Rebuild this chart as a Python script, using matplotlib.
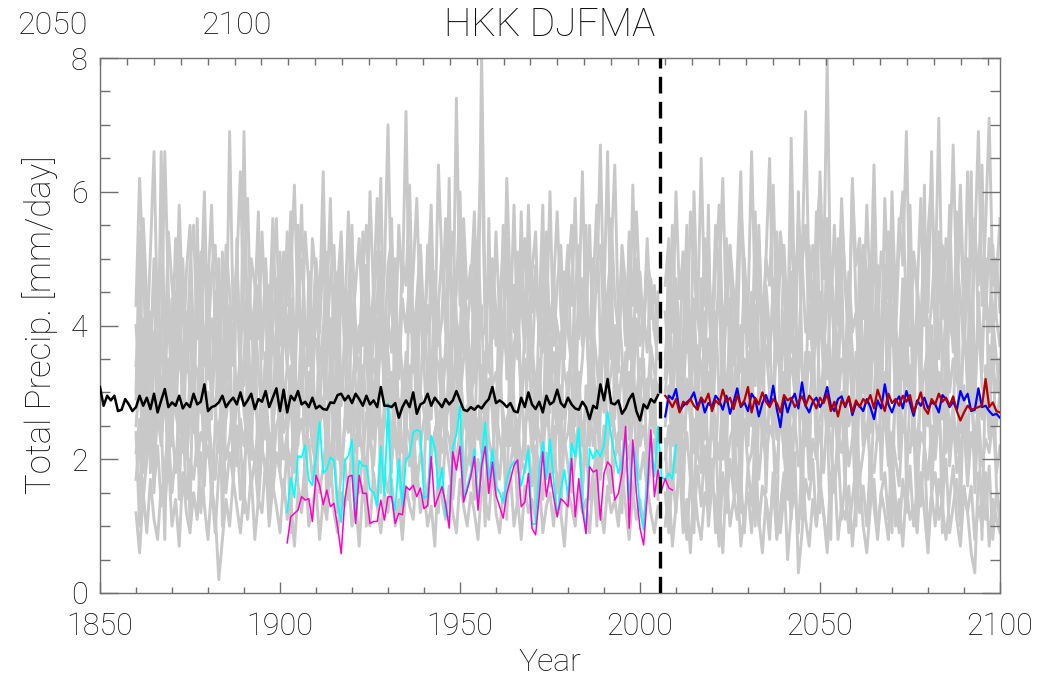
import matplotlib
matplotlib.use("Agg")
import matplotlib.pyplot as plt
import numpy as np

# ---------------- data (mm/day) ----------------
mean_hist_years = list(range(1850, 2006))
mean_hist = [
    3.08, 2.80, 2.95, 2.88, 2.95, 2.72, 2.74, 2.90, 2.82, 2.72,
    2.78, 2.95, 2.80, 2.92, 2.75, 2.98, 2.70, 2.88, 3.05, 2.78,
    2.85, 2.80, 2.95, 2.76, 2.84, 2.78, 2.98, 2.82, 2.86, 3.12,
    2.72, 2.78, 2.80, 2.85, 2.95, 2.78, 2.86, 2.92, 2.82, 3.00,
    2.80, 2.88, 2.98, 2.75, 2.90, 2.86, 3.02, 2.78, 2.92, 3.06,
    2.72, 3.04, 2.70, 2.95, 2.88, 3.02, 2.82, 2.86, 2.78, 2.92,
    2.76, 2.80, 2.75, 2.74, 2.85, 2.84, 2.96, 2.98, 2.88, 2.95,
    2.84, 2.98, 2.90, 2.80, 2.95, 2.82, 2.88, 2.78, 3.08, 2.80,
    2.80, 2.78, 2.84, 2.62, 2.78, 2.88, 2.78, 3.00, 2.68, 2.82,
    2.85, 2.98, 2.80, 2.92, 2.85, 2.78, 2.90, 2.82, 2.88, 3.02,
    2.88, 2.74, 2.72, 2.78, 2.74, 2.80, 2.76, 2.84, 2.90, 3.08,
    2.84, 2.88, 2.84, 2.78, 2.84, 2.72, 2.70, 2.92, 2.78, 3.00,
    2.82, 2.75, 2.86, 2.70, 2.95, 2.82, 2.86, 3.04, 2.84, 2.78,
    2.92, 2.82, 2.76, 2.74, 2.86, 2.78, 2.60, 2.80, 2.76, 3.12,
    2.88, 3.20, 2.84, 2.82, 2.88, 2.68, 2.76, 2.90, 2.98, 2.72,
    2.58, 2.82, 2.76, 2.90, 2.85, 2.96,
]

future_years = list(range(2007, 2101))
mean_fut_blue = [
    2.64, 2.95, 2.90, 3.05, 2.72, 2.80, 2.85, 2.90, 3.00, 2.78,
    2.92, 2.70, 2.84, 2.78, 2.95, 2.88, 2.74, 2.95, 2.68, 2.86,
    3.06, 2.78, 2.85, 2.72, 2.98, 2.90, 2.64, 2.84, 2.96, 2.80,
    3.10, 2.75, 2.48, 2.92, 2.70, 2.88, 2.98, 2.76, 3.15, 2.80,
    2.70, 2.86, 2.92, 2.78, 2.88, 3.08, 2.80, 2.72, 2.90, 2.94,
    2.78, 2.92, 2.66, 2.84, 2.80, 2.72, 2.90, 2.78, 2.60, 2.88,
    2.76, 3.12, 2.82, 2.70, 2.86, 2.94, 2.76, 3.02, 2.84, 2.65,
    2.88, 2.80, 2.92, 2.76, 2.85, 2.82, 2.70, 2.96, 2.90, 2.78,
    2.86, 2.74, 3.02, 2.88, 2.98, 2.72, 2.74, 3.06, 2.78, 2.80,
    2.72, 2.66, 2.68, 2.62,
]
mean_fut_red = [
    2.95, 2.88, 2.78, 2.90, 2.70, 2.86, 2.82, 2.90, 2.80, 2.74,
    2.92, 2.85, 2.98, 2.72, 2.88, 2.82, 3.04, 2.86, 2.92, 2.75,
    2.96, 2.80, 2.88, 3.08, 2.70, 2.92, 2.82, 3.00, 2.86, 2.78,
    2.90, 2.84, 2.70, 2.96, 2.88, 2.92, 2.78, 2.86, 2.94, 2.80,
    2.95, 2.88, 2.76, 2.92, 2.84, 2.98, 2.72, 2.86, 2.64, 2.88,
    2.80, 2.94, 2.70, 2.88, 2.78, 2.90, 2.84, 2.96, 2.76, 3.04,
    2.88, 2.72, 2.98, 2.84, 2.90, 2.80, 2.95, 2.86, 2.96, 2.70,
    2.84, 3.00, 2.76, 2.68, 2.90, 2.82, 2.98, 2.86, 2.92, 2.80,
    2.94, 2.72, 2.58, 2.70, 2.80, 2.74, 2.76, 2.78, 2.80, 3.20,
    2.78, 2.85, 2.72, 2.70,
]

obs_cyan_years = list(range(1902, 2011))
obs_cyan = [
    1.21, 1.72, 1.43, 2.05, 2.03, 2.21, 1.69, 1.61, 2.03, 2.56,
    1.79, 1.85, 2.03, 1.98, 1.35, 1.06, 1.98, 2.05, 2.29, 1.09,
    1.98, 1.90, 1.90, 1.55, 1.50, 1.30, 2.19, 1.45, 2.84, 1.45,
    1.24, 2.00, 1.30, 2.00, 2.05, 2.40, 2.44, 2.41, 1.42, 1.45,
    2.35, 2.18, 1.55, 1.87, 1.15, 1.13, 2.18, 2.37, 2.80, 1.40,
    1.60, 1.80, 2.15, 1.35, 2.00, 2.55, 1.70, 2.15, 1.60, 1.50,
    1.35, 1.70, 1.87, 1.97, 1.92, 1.60, 1.85, 2.15, 1.03, 1.03,
    1.85, 2.26, 1.70, 2.30, 1.69, 1.14, 1.54, 1.84, 1.44, 2.24,
    2.04, 2.46, 1.39, 0.89, 2.16, 2.01, 2.14, 2.04, 2.21, 2.71,
    2.34, 2.04, 1.79, 1.99, 2.39, 1.39, 2.24, 1.94, 1.24, 0.94,
    1.69, 2.34, 1.74, 2.49, 1.74, 1.69, 1.79, 1.71, 2.21,
]

obs_magenta_years = list(range(1902, 2010))
obs_magenta = [
    0.75, 1.14, 1.19, 1.24, 1.44, 1.39, 1.41, 1.07, 1.76, 1.61,
    1.32, 1.54, 1.29, 1.34, 0.99, 0.59, 1.39, 1.74, 1.76, 1.04,
    1.76, 1.49, 1.49, 1.04, 1.07, 1.07, 1.39, 1.09, 1.44, 1.44,
    1.04, 1.19, 1.17, 1.59, 1.54, 1.61, 1.44, 1.57, 1.26, 1.31,
    2.04, 1.29, 1.44, 1.59, 1.34, 0.97, 2.11, 1.84, 2.19, 1.36,
    1.54, 1.74, 2.04, 1.24, 1.89, 2.19, 1.49, 1.96, 1.46, 1.29,
    1.12, 1.49, 1.69, 1.91, 1.99, 1.29, 1.36, 1.79, 0.97, 0.87,
    1.44, 2.11, 1.44, 1.79, 1.44, 1.14, 1.41, 1.36, 1.29, 2.01,
    1.14, 1.71, 1.24, 0.89, 1.89, 1.81, 1.84, 1.09, 1.79, 1.96,
    1.89, 1.39, 1.49, 1.79, 2.49, 0.97, 2.29, 1.49, 0.97, 0.72,
    1.44, 2.44, 1.44, 1.84, 1.54, 1.71, 1.57, 1.54,
]

# ensemble members, historical 1860-2005
member_hist_years = list(range(1860, 2006))
member_hist_1 = [
    4.3, 6.2, 4.8, 3.6, 5.1, 6.6, 4.0, 4.9, 3.5, 5.4, 4.6, 3.9, 5.8, 4.2, 3.3, 4.9, 5.5, 3.8, 4.4, 6.0,
    3.7, 4.8, 5.2, 3.9, 4.5, 3.4, 6.9, 4.1, 5.0, 3.6, 4.7, 5.9, 3.8, 4.4, 5.3, 3.5, 4.9, 4.0, 5.6, 3.9,
    4.5, 5.1, 3.6, 4.8, 6.1, 4.2, 3.7, 5.4, 4.6, 3.9, 5.0, 4.3, 6.3, 3.8, 4.7, 5.2, 3.4, 4.9, 4.1, 5.7,
    3.9, 4.6, 5.3, 4.0, 3.6, 6.0, 4.4, 5.1, 3.8, 4.8, 7.0, 4.2, 3.7, 5.5, 4.5, 7.2, 3.9, 4.8, 5.9, 4.1,
    3.6, 5.2, 4.4, 3.8, 6.4, 4.9, 4.0, 5.5, 3.7, 7.4, 4.3, 5.0, 3.9, 4.6, 5.7, 3.5, 8.1, 4.2, 4.9, 3.8,
    5.4, 4.1, 3.7, 6.2, 4.5, 3.9, 5.1, 4.4, 3.6, 5.8, 4.2, 4.9, 3.8, 5.3, 4.0, 6.0, 3.7, 4.6, 5.2, 3.9,
    4.7, 5.5, 3.6, 4.3, 6.3, 4.0, 3.8, 5.0, 4.5, 6.7, 4.1, 3.7, 5.6, 4.4, 3.9, 5.2, 4.6, 3.5, 6.1, 4.2,
    4.8, 3.9, 5.3, 4.1, 4.6, 3.8,
]
member_hist_2 = [
    3.4, 4.2, 5.2, 3.1, 3.8, 4.6, 2.9, 6.6, 3.5, 4.1, 3.0, 4.5, 3.6, 5.0, 3.3, 4.0, 2.8, 4.4, 3.9, 5.3,
    3.2, 4.1, 3.6, 2.9, 5.1, 3.8, 4.3, 3.4, 4.9, 3.1, 6.9, 3.7, 4.2, 3.0, 4.6, 3.5, 5.0, 3.3, 4.0, 4.7,
    3.1, 3.9, 5.4, 3.6, 3.2, 4.4, 5.8, 3.7, 4.1, 2.9, 4.5, 3.4, 3.9, 5.1, 3.2, 4.2, 4.8, 3.0, 3.6, 4.4,
    5.5, 3.3, 4.0, 3.7, 4.9, 3.1, 3.8, 4.3, 6.2, 3.4, 4.1, 3.6, 5.0, 3.2, 4.4, 3.9, 4.7, 3.3, 4.0, 5.2,
    3.5, 4.3, 3.0, 4.8, 3.7, 4.1, 5.6, 3.4, 3.9, 4.5, 6.0, 3.6, 4.2, 3.1, 4.6, 5.3, 3.8, 4.0, 3.3, 4.9,
    3.7, 4.4, 5.1, 3.2, 3.9, 4.6, 3.5, 5.7, 3.8, 4.1, 3.3, 4.7, 3.9, 3.6, 5.4, 3.2, 4.3, 4.0, 3.5, 4.8,
    3.9, 3.4, 4.5, 5.2, 3.7, 4.1, 3.0, 4.6, 5.8, 3.6, 4.4, 6.6, 3.5, 4.0, 3.3, 4.9, 3.8, 4.3, 3.4, 5.0,
    3.7, 4.2, 3.6, 4.7, 3.9, 3.5,
]
member_hist_3 = [
    2.9, 3.5, 4.1, 2.7, 3.3, 3.9, 2.6, 3.8, 3.0, 4.4, 3.2, 2.8, 3.6, 3.1, 4.2, 2.9, 3.5, 3.3, 2.7, 3.9,
    3.4, 3.0, 4.5, 3.1, 2.6, 3.7, 3.2, 4.0, 2.8, 3.5, 3.1, 3.8, 2.9, 4.3, 3.3, 2.7, 3.6, 3.0, 3.9, 3.2,
    2.8, 4.0, 3.4, 3.0, 3.7, 2.6, 4.2, 3.3, 2.9, 3.6, 3.8, 3.1, 2.7, 3.5, 4.1, 3.0, 3.4, 2.8, 3.9, 3.2,
    3.0, 3.7, 3.3, 2.6, 4.4, 3.1, 3.5, 2.9, 3.8, 3.2, 3.6, 2.8, 3.4, 4.0, 3.1, 3.5, 2.7, 3.9, 3.3, 3.0,
    4.2, 3.2, 2.9, 3.6, 3.4, 2.8, 3.7, 3.1, 4.1, 3.3, 2.9, 3.5, 3.8, 3.0, 3.2, 4.3, 2.7, 3.6, 3.4, 3.1,
    3.3, 2.8, 3.9, 3.5, 3.0, 3.7, 4.0, 2.9, 3.4, 3.2, 3.7, 3.1, 2.8, 4.1, 3.4, 3.0, 3.6, 2.7, 3.9, 3.3,
    3.0, 3.8, 3.2, 2.9, 3.5, 4.4, 3.1, 3.3, 2.8, 3.7, 3.6, 3.0, 3.3, 3.9, 2.7, 3.4, 3.1, 4.0, 3.2, 2.9,
    3.5, 3.2, 2.8, 3.7, 3.3, 3.0,
]
member_hist_4 = [
    2.5, 3.2, 2.1, 3.6, 2.8, 2.3, 3.4, 2.6, 3.0, 2.2, 3.5, 2.7, 2.4, 3.1, 2.0, 3.3, 2.9, 2.5, 3.7, 2.6,
    2.3, 3.0, 2.8, 2.1, 3.4, 2.6, 3.1, 2.4, 2.9, 3.6, 2.7, 2.2, 3.3, 2.8, 2.5, 3.0, 2.3, 3.5, 2.6, 2.9,
    3.2, 2.4, 2.7, 3.4, 2.1, 2.9, 3.1, 2.5, 3.3, 2.6, 2.2, 3.0, 2.8, 2.4, 3.5, 2.7, 2.3, 3.2, 2.9, 2.5,
    3.1, 2.6, 2.2, 3.4, 2.8, 2.5, 3.0, 3.6, 2.4, 2.7, 2.9, 3.3, 2.5, 2.1, 3.1, 2.8, 3.4, 2.6, 2.3, 3.0,
    2.7, 2.4, 3.2, 2.9, 2.2, 3.5, 2.6, 2.8, 3.1, 2.5, 3.3, 2.7, 2.4, 3.0, 2.8, 2.3, 3.4, 2.6, 3.2, 2.9,
    2.5, 3.1, 2.7, 2.2, 3.3, 2.8, 2.4, 3.0, 3.5, 2.6, 2.8, 2.3, 3.2, 2.7, 2.5, 3.4, 2.9, 2.4, 3.1, 2.6,
    3.0, 2.5, 2.8, 3.3, 2.2, 2.9, 3.2, 2.6, 2.4, 3.1, 2.7, 3.4, 2.5, 2.9, 3.1, 2.3, 2.8, 3.3, 2.6, 3.0,
    2.4, 2.9, 3.2, 2.6, 2.8, 3.1,
]
member_hist_5 = [
    2.1, 2.6, 1.8, 2.9, 2.3, 1.9, 2.7, 2.2, 3.0, 2.0, 2.5, 1.8, 2.8, 2.3, 2.0, 2.6, 2.9, 1.9, 2.4, 2.2,
    2.7, 2.1, 1.7, 2.5, 2.8, 2.0, 2.3, 2.9, 1.9, 2.6, 2.2, 2.8, 2.4, 1.9, 2.6, 2.1, 3.0, 2.3, 1.8, 2.5,
    2.7, 2.0, 2.4, 2.9, 1.8, 2.3, 2.6, 2.1, 2.8, 2.2, 1.9, 2.5, 2.8, 2.2, 2.0, 2.7, 2.3, 1.8, 2.6, 2.4,
    2.9, 2.1, 2.5, 2.0, 2.7, 2.3, 1.9, 2.8, 2.2, 2.6, 2.4, 2.0, 2.7, 2.9, 2.1, 2.5, 2.3, 1.8, 2.8, 2.2,
    2.6, 2.9, 2.0, 2.4, 2.7, 2.1, 2.5, 2.3, 1.9, 2.8, 2.2, 2.5, 2.8, 1.9, 2.4, 2.6, 2.1, 2.9, 2.3, 2.0,
    2.7, 2.3, 2.0, 2.6, 2.8, 2.2, 2.5, 1.9, 2.4, 2.9, 2.1, 2.6, 2.4, 2.0, 2.8, 2.3, 1.8, 2.7, 2.5, 2.2,
    2.4, 2.9, 2.1, 2.6, 2.3, 2.0, 2.8, 2.2, 2.7, 1.9, 2.5, 2.2, 2.9, 2.4, 2.1, 2.7, 2.3, 2.0, 2.6, 2.8,
    2.2, 2.5, 2.0, 2.7, 2.4, 2.3,
]
member_hist_6 = [
    1.7, 2.3, 1.4, 2.0, 2.5, 1.6, 2.2, 1.3, 1.9, 2.4, 1.5, 2.1, 1.8, 2.6, 1.4, 2.0, 1.7, 2.3, 1.2, 1.9,
    2.2, 1.6, 0.9, 1.8, 2.4, 1.5, 2.1, 1.7, 2.5, 1.4, 1.9, 2.3, 1.6, 2.0, 1.3, 2.2, 1.8, 2.4, 1.5, 2.1,
    1.8, 1.4, 2.2, 1.9, 2.5, 1.6, 1.3, 2.0, 2.3, 1.7, 2.1, 1.5, 1.9, 2.4, 1.6, 2.2, 1.2, 1.8, 2.0, 1.4,
    2.3, 1.7, 1.5, 2.1, 1.9, 2.5, 1.6, 1.3, 2.2, 1.8, 1.5, 2.0, 2.4, 1.7, 1.4, 2.2, 1.9, 2.6, 1.6, 2.1,
    1.8, 1.3, 2.1, 2.4, 1.7, 1.5, 2.3, 1.9, 1.4, 2.0, 2.4, 1.6, 1.9, 2.2, 1.4, 2.0, 1.7, 2.5, 1.5, 1.8,
    2.1, 1.7, 2.4, 1.5, 1.9, 2.3, 1.3, 2.0, 1.8, 2.2, 1.6, 2.2, 1.9, 1.4, 2.1, 1.7, 2.5, 1.5, 1.8, 2.3,
    1.9, 1.5, 2.0, 2.4, 1.6, 2.2, 1.4, 1.8, 2.1, 1.7, 2.3, 1.8, 1.5, 2.0, 2.4, 1.6, 1.9, 2.2, 1.3, 2.0,
    1.7, 2.1, 1.5, 1.9, 2.3, 1.8,
]
member_hist_7 = [
    1.2, 0.6, 1.5, 0.9, 1.7, 1.1, 0.8, 1.6, 1.3, 2.0, 1.0, 1.4, 0.7, 1.8, 1.2, 0.9, 1.5, 1.1, 2.1, 1.3,
    0.8, 1.6, 1.2, 0.2, 0.8, 1.4, 1.0, 1.7, 1.3, 0.9, 1.5, 1.1, 1.8, 0.8, 1.4, 1.2, 2.0, 1.0, 1.6, 1.3,
    0.9, 1.7, 1.1, 1.4, 0.7, 1.5, 1.2, 1.9, 1.0, 1.3, 1.6, 0.8, 1.4, 1.1, 2.0, 1.2, 0.9, 1.5, 1.3, 1.7,
    1.0, 1.4, 0.7, 1.6, 1.2, 1.0, 1.8, 1.3, 0.9, 1.5, 1.2, 1.7, 1.0, 1.4, 0.8, 1.6, 1.3, 1.1, 1.9, 1.2,
    1.5, 1.0, 1.3, 0.7, 1.8, 1.4, 1.1, 1.6, 1.2, 0.9, 1.7, 1.3, 1.0, 1.5, 1.2, 0.8, 1.6, 1.4, 1.1, 1.9,
    1.2, 0.9, 1.5, 1.3, 1.8, 1.0, 1.4, 0.8, 1.6, 1.2, 1.4, 1.1, 1.7, 0.9, 1.3, 1.5, 1.0, 1.8, 1.2, 0.7,
    1.5, 1.3, 1.0, 1.6, 1.2, 1.4, 0.9, 1.7, 1.1, 1.3, 0.9, 1.6, 1.2, 1.4, 1.0, 1.8, 1.3, 0.8, 1.5, 1.1,
    1.4, 1.0, 1.6, 1.2, 0.9, 1.3,
]
member_hist_8 = [
    3.0, 5.4, 2.2, 4.1, 1.8, 3.6, 4.8, 2.5, 3.9, 1.9, 4.4, 2.8, 5.2, 2.1, 3.7, 4.5, 2.4, 5.6, 3.1, 2.0,
    4.9, 2.6, 3.8, 5.0, 2.3, 4.2, 3.2, 1.9, 5.3, 2.9, 3.5, 4.7, 2.0, 4.3, 5.7, 2.4, 3.3, 4.6, 2.1, 3.9,
    5.1, 2.7, 3.4, 4.4, 2.2, 5.5, 3.0, 2.5, 4.8, 3.6, 2.3, 4.1, 5.8, 2.9, 3.2, 4.6, 2.0, 5.0, 3.5, 2.6,
    4.3, 3.1, 2.4, 5.4, 3.7, 2.2, 4.7, 3.3, 5.1, 2.5, 3.8, 5.6, 2.7, 4.0, 3.2, 2.1, 5.2, 3.9, 2.6, 4.6,
    3.4, 2.3, 5.5, 3.0, 4.4, 2.8, 3.6, 6.2, 2.4, 4.1, 2.9, 4.8, 3.2, 2.0, 5.1, 3.7, 4.3, 2.5, 5.6, 3.1,
    2.6, 4.5, 3.8, 5.3, 2.2, 3.4, 4.7, 2.8, 3.9, 5.0, 3.6, 2.4, 4.2, 5.8, 3.0, 2.7, 4.9, 3.3, 2.1, 4.4,
    5.2, 3.1, 2.5, 4.6, 3.8, 5.5, 2.3, 4.0, 3.4, 2.8, 4.7, 3.2, 5.0, 2.6, 4.3, 3.6, 2.4, 5.4, 3.0, 4.1,
    2.7, 3.9, 5.1, 3.3, 2.5, 4.5,
]
member_hist_9 = [
    2.4, 1.0, 3.7, 2.0, 4.2, 1.5, 3.1, 2.7, 0.8, 3.5, 2.2, 4.0, 1.4, 3.3, 2.6, 1.1, 3.8, 2.1, 4.4, 1.6,
    3.0, 1.3, 2.5, 3.9, 1.0, 2.8, 4.1, 1.7, 3.2, 2.3, 1.2, 3.6, 2.0, 4.3, 1.5, 2.9, 3.4, 1.1, 2.7, 4.0,
    1.8, 3.1, 2.4, 0.9, 3.7, 2.2, 4.2, 1.4, 2.9, 3.3, 1.6, 2.6, 4.0, 1.2, 3.4, 2.1, 3.8, 1.7, 2.5, 4.5,
    2.0, 1.3, 3.5, 2.7, 1.0, 3.9, 2.3, 4.1, 1.5, 2.8, 3.2, 1.8, 4.4, 2.4, 1.1, 3.6, 2.9, 1.4, 4.0, 2.2,
    1.7, 3.3, 2.6, 4.2, 1.2, 3.0, 2.1, 3.7, 1.6, 2.9, 3.8, 1.4, 2.5, 3.4, 1.9, 4.3, 2.2, 1.0, 3.1, 2.7,
    1.5, 3.6, 2.3, 1.1, 4.1, 2.8, 1.8, 3.2, 2.0, 3.9, 2.6, 1.3, 3.5, 2.1, 4.4, 1.6, 2.9, 3.7, 1.2, 2.4,
    3.3, 1.9, 4.0, 2.5, 1.4, 3.1, 2.2, 3.8, 1.0, 2.7, 4.2, 2.0, 1.5, 3.4, 2.8, 1.2, 3.6, 2.3, 4.1, 1.7,
    2.9, 3.5, 1.8, 2.6, 3.2, 1.4,
]
member_hist_10 = [
    4.0, 3.2, 5.6, 4.4, 3.5, 5.0, 4.2, 3.8, 6.6, 4.5, 3.6, 5.3, 4.1, 3.3, 4.8, 5.5, 3.7, 4.3, 5.1, 3.4,
    4.6, 5.8, 3.9, 4.2, 3.1, 5.2, 4.5, 3.6, 4.9, 6.3, 4.0, 3.5, 5.0, 4.6, 3.8, 5.4, 4.1, 3.3, 4.7, 5.6,
    3.7, 4.9, 4.3, 5.7, 3.6, 4.4, 5.0, 4.0, 3.4, 5.3, 4.7, 3.9, 5.1, 4.2, 5.9, 3.5, 4.6, 5.4, 3.8, 4.3,
    5.2, 4.0, 3.6, 4.8, 5.5, 3.9, 4.5, 5.9, 4.1, 3.7, 4.9, 5.3, 4.2, 3.5, 5.0, 4.6, 6.1, 3.8, 4.4, 5.2,
    4.0, 4.7, 5.8, 3.6, 4.3, 5.1, 3.9, 4.8, 5.4, 4.1, 3.7, 5.6, 4.4, 4.9, 3.5, 5.2, 6.7, 4.0, 4.6, 5.0,
    4.2, 3.6, 5.5, 4.7, 4.0, 5.8, 3.8, 4.4, 5.3, 3.9, 4.8, 5.4, 3.7, 4.5, 5.1, 3.9, 4.6, 5.7, 4.2, 3.5,
    5.0, 4.3, 5.9, 3.8, 4.7, 4.1, 5.5, 3.6, 4.9, 5.2, 3.9, 4.5, 5.1, 6.4, 4.0, 4.8, 3.7, 5.3, 4.3, 5.7,
    4.4, 3.8, 5.0, 4.6, 3.9, 4.2,
]

# ensemble members, scenario 2007-2100
member_fut_1 = [
    4.6, 5.3, 3.9, 6.0, 4.4, 5.1, 3.6, 5.7, 4.8, 4.1, 6.5, 4.3, 5.0, 3.8, 5.5, 4.7, 6.2, 4.0, 5.2, 4.5,
    3.7, 5.8, 4.9, 4.2, 6.6, 4.4, 5.3, 3.9, 5.0, 4.6, 6.1, 4.1, 5.4, 4.8, 3.8, 6.8, 4.3, 5.6, 4.9, 7.2,
    4.5, 5.2, 3.9, 6.3, 4.7, 8.0, 4.2, 5.5, 4.0, 5.9, 4.6, 3.7, 6.1, 4.9, 5.3, 4.1, 5.8, 4.4, 6.4, 4.0,
    5.1, 4.7, 3.8, 6.0, 4.3, 5.6, 4.9, 6.9, 4.2, 5.0, 4.5, 5.9, 4.0, 5.4, 6.2, 4.6, 7.1, 4.1, 5.3, 4.8,
    6.7, 4.4, 5.7, 4.0, 6.3, 4.9, 5.2, 6.9, 4.3, 5.5, 7.1, 4.6, 5.0, 4.2,
]
member_fut_2 = [
    3.5, 4.2, 3.1, 4.7, 3.8, 3.3, 5.0, 3.6, 4.4, 3.0, 4.1, 3.7, 5.3, 3.4, 3.9, 4.6, 3.2, 4.3, 5.1, 3.6,
    4.0, 3.3, 4.8, 3.7, 4.5, 3.1, 5.5, 3.9, 4.2, 3.4, 4.7, 3.8, 3.2, 5.2, 4.0, 3.6, 4.4, 3.3, 5.0, 3.9,
    4.3, 3.5, 5.7, 3.8, 4.1, 3.2, 4.6, 3.7, 5.3, 4.0, 3.4, 4.8, 3.9, 4.2, 3.1, 5.1, 3.6, 4.5, 3.8, 4.9,
    3.3, 4.4, 5.4, 3.7, 4.0, 3.5, 4.7, 3.9, 5.8, 3.6, 4.2, 3.4, 4.9, 3.8, 4.3, 5.2, 3.5, 4.6, 3.9, 4.1,
    3.7, 5.0, 4.4, 3.6, 4.8, 3.3, 5.6, 4.0, 3.8, 4.5, 3.9, 5.2, 4.1, 3.7,
]
member_fut_3 = [
    3.0, 3.6, 2.7, 3.9, 3.3, 2.8, 4.1, 3.2, 2.9, 3.7, 3.4, 2.6, 3.8, 3.1, 4.2, 2.9, 3.5, 3.0, 3.9, 2.7,
    3.3, 4.0, 2.8, 3.6, 3.1, 4.3, 2.9, 3.4, 3.7, 3.0, 2.7, 3.8, 3.2, 4.1, 2.9, 3.5, 3.0, 3.9, 3.3, 2.8,
    3.6, 3.1, 4.2, 2.9, 3.4, 3.7, 3.0, 4.0, 2.8, 3.5, 3.2, 3.9, 2.7, 3.6, 3.3, 3.0, 4.1, 3.1, 3.8, 2.9,
    3.4, 3.0, 3.7, 4.3, 2.8, 3.5, 3.2, 3.9, 3.0, 3.6, 4.0, 2.9, 3.3, 3.7, 3.1, 3.8, 2.8, 3.4, 4.2, 3.0,
    3.5, 3.2, 2.9, 3.9, 3.3, 3.6, 3.0, 4.1, 3.1, 2.8, 3.7, 3.4, 3.0, 3.5,
]
member_fut_4 = [
    2.5, 3.1, 2.2, 2.9, 3.4, 2.4, 2.8, 3.2, 2.1, 2.7, 3.0, 2.3, 3.3, 2.6, 2.0, 3.1, 2.8, 2.4, 3.5, 2.6,
    2.2, 2.9, 3.2, 2.5, 2.8, 2.1, 3.0, 3.4, 2.4, 2.7, 3.1, 2.3, 2.6, 3.3, 2.0, 2.9, 2.5, 3.2, 2.7, 2.2,
    2.8, 3.4, 2.4, 2.6, 3.0, 2.3, 3.3, 2.7, 2.1, 2.9, 3.1, 2.5, 2.8, 2.2, 3.2, 2.6, 2.4, 3.0, 2.9, 2.3,
    2.7, 3.3, 2.5, 2.1, 2.9, 3.1, 2.4, 2.8, 3.4, 2.6, 2.2, 3.0, 2.7, 2.5, 3.2, 2.3, 2.9, 2.6, 3.1, 2.4,
    2.8, 2.1, 3.3, 2.7, 2.5, 3.0, 2.2, 2.9, 2.6, 3.2, 2.4, 2.8, 2.5, 3.0,
]
member_fut_5 = [
    2.0, 2.5, 1.6, 2.3, 2.8, 1.9, 2.4, 1.7, 2.6, 2.1, 1.8, 2.7, 2.2, 1.5, 2.4, 2.0, 2.9, 1.8, 2.3, 2.5,
    1.6, 2.2, 2.6, 1.9, 2.1, 2.8, 1.7, 2.4, 2.0, 2.5, 2.3, 1.8, 2.7, 2.1, 1.4, 2.4, 2.6, 1.9, 2.2, 2.8,
    1.7, 2.3, 2.0, 2.5, 1.8, 2.7, 2.2, 1.6, 2.4, 2.1, 2.6, 1.9, 2.3, 2.8, 1.7, 2.1, 2.5, 2.0, 1.8, 2.4,
    2.2, 2.7, 1.9, 2.4, 2.0, 1.6, 2.6, 2.3, 2.1, 2.8, 1.8, 2.4, 2.2, 1.7, 2.5, 2.0, 2.7, 1.9, 2.3, 2.1,
    2.6, 1.8, 2.2, 2.5, 1.6, 2.4, 2.0, 2.7, 1.9, 2.3, 2.1, 2.6, 1.8, 2.2,
]
member_fut_6 = [
    1.5, 0.9, 1.8, 1.2, 2.1, 1.4, 0.8, 1.7, 1.1, 1.9, 1.3, 2.2, 1.0, 1.6, 1.4, 0.7, 1.8, 1.2, 2.0, 1.5,
    1.1, 1.7, 0.9, 1.9, 1.3, 2.3, 1.0, 1.6, 1.4, 0.8, 1.8, 1.2, 0.9, 1.5, 1.9, 1.1, 2.1, 0.3, 0.9, 1.7,
    1.4, 2.0, 1.0, 1.6, 1.2, 0.7, 1.8, 1.5, 2.2, 1.1, 1.7, 0.9, 1.4, 1.9, 1.2, 1.6, 1.0, 2.0, 1.3, 0.8,
    1.5, 1.8, 1.1, 2.1, 1.4, 0.9, 1.7, 1.2, 1.9, 1.0, 1.6, 1.3, 2.2, 0.8, 1.5, 1.8, 1.1, 1.4, 2.0, 0.9,
    1.3, 1.7, 1.0, 1.6, 1.2, 0.6, 0.3, 1.8, 1.4, 1.1, 1.9, 0.8, 1.5, 1.2,
]
member_fut_7 = [
    3.2, 5.1, 2.4, 4.3, 1.9, 3.8, 5.5, 2.6, 4.0, 2.1, 4.7, 2.9, 5.8, 2.3, 3.6, 4.9, 2.0, 5.3, 3.3, 2.7,
    4.4, 1.8, 5.0, 3.0, 2.5, 5.7, 3.4, 2.2, 4.6, 3.9, 2.4, 5.4, 3.1, 4.2, 1.7, 4.8, 2.8, 6.0, 3.5, 2.6,
    5.2, 3.7, 2.1, 4.5, 3.2, 5.6, 2.5, 4.1, 2.9, 5.0, 2.3, 4.4, 3.6, 1.9, 5.3, 3.0, 4.7, 2.4, 5.9, 3.3,
    2.7, 4.9, 2.0, 5.5, 3.8, 2.6, 4.3, 3.1, 5.1, 2.2, 4.6, 3.4, 6.1, 2.5, 4.0, 2.8, 5.4, 3.2, 2.1, 4.8,
    3.6, 5.7, 2.4, 4.2, 3.0, 6.3, 2.7, 4.5, 3.3, 5.0, 2.6, 4.1, 3.5, 2.9,
]
member_fut_8 = [
    2.3, 1.1, 3.6, 1.8, 4.0, 1.4, 3.2, 2.6, 0.9, 3.4, 2.0, 4.2, 1.3, 3.0, 2.5, 0.8, 3.8, 1.9, 4.4, 1.6,
    2.9, 1.2, 3.5, 2.2, 4.1, 1.0, 2.7, 3.9, 1.5, 3.1, 2.4, 0.9, 3.7, 2.0, 4.3, 1.4, 2.8, 3.3, 1.1, 3.6,
    1.8, 4.0, 2.3, 1.2, 3.5, 2.6, 0.8, 3.9, 2.1, 3.0, 1.5, 4.2, 2.7, 1.0, 3.4, 2.2, 3.8, 1.3, 2.9, 4.1,
    1.7, 3.2, 2.4, 0.9, 3.7, 2.0, 4.4, 1.6, 3.0, 2.5, 1.1, 3.6, 2.2, 4.0, 1.4, 2.8, 3.3, 0.9, 3.9, 1.9,
    2.6, 4.3, 1.2, 3.1, 2.0, 3.7, 1.5, 2.7, 0.8, 3.4, 2.3, 4.0, 1.6, 1.0,
]
member_fut_9 = [
    4.2, 3.4, 5.5, 4.0, 3.6, 5.1, 4.5, 3.3, 6.0, 4.1, 3.7, 5.3, 4.4, 3.5, 4.9, 5.8, 3.8, 4.6, 5.2, 3.4,
    4.8, 6.3, 3.9, 4.3, 3.2, 5.4, 4.7, 3.6, 5.0, 6.5, 4.0, 3.5, 5.1, 4.6, 3.7, 5.7, 4.2, 3.4, 4.9, 5.5,
    3.8, 4.5, 5.3, 6.1, 3.6, 4.4, 5.0, 4.1, 3.5, 5.6, 4.7, 3.9, 6.2, 4.3, 3.7, 5.2, 4.8, 3.6, 5.4, 4.0,
    3.5, 5.9, 4.4, 4.9, 3.8, 5.3, 6.0, 4.1, 3.7, 5.1, 4.6, 3.9, 5.5, 4.2, 6.6, 3.6, 4.8, 5.2, 4.0, 5.8,
    3.8, 4.5, 6.1, 4.3, 5.0, 3.7, 5.4, 4.6, 6.4, 4.1, 5.3, 3.9, 4.7, 5.6,
]
member_fut_10 = [
    1.0, 1.6, 0.7, 1.3, 1.9, 0.9, 1.4, 0.6, 1.7, 1.1, 0.8, 1.5, 1.2, 2.0, 0.9, 1.3, 0.6, 1.8, 1.0, 1.4,
    1.7, 0.7, 1.2, 1.5, 0.9, 1.9, 1.1, 0.6, 1.4, 1.0, 1.6, 0.8, 1.3, 1.8, 0.5, 1.2, 1.5, 0.9, 2.0, 1.1,
    0.7, 1.4, 1.0, 1.7, 1.2, 0.6, 1.5, 1.9, 0.8, 1.3, 1.1, 1.6, 0.7, 1.4, 1.8, 1.0, 0.6, 1.3, 1.7, 0.9,
    1.5, 1.2, 0.8, 1.9, 1.0, 1.4, 0.7, 1.6, 1.1, 1.3, 0.9, 1.8, 1.2, 0.6, 1.5, 1.0, 1.7, 1.3, 0.8, 1.4,
    1.9, 1.1, 0.7, 1.5, 1.2, 1.6, 0.8, 1.3, 1.0, 1.8, 0.7, 1.4, 1.1, 0.9,
]

members_hist = [member_hist_1, member_hist_2, member_hist_3, member_hist_4, member_hist_5,
                member_hist_6, member_hist_7, member_hist_8, member_hist_9, member_hist_10]
members_fut = [member_fut_1, member_fut_2, member_fut_3, member_fut_4, member_fut_5,
               member_fut_6, member_fut_7, member_fut_8, member_fut_9, member_fut_10]

title = "HKK DJFMA"
top_labels = ["2050", "2100"]
scenario_split_year = 2005.5

# ---------------- figure ----------------
FAM = ['Roboto', 'DejaVu Sans']
WT = 'light'
plt.rcParams['font.family'] = FAM
plt.rcParams['font.weight'] = WT
plt.rcParams['axes.labelweight'] = WT
W, H = 1046, 682
fig = plt.figure(figsize=(W / 100, H / 100), dpi=100)
ax = fig.add_axes([100 / W, 1 - 593 / H, 900 / W, 535 / H])

GRAY = '#c8c8c8'
for m in members_hist:
    ax.plot(member_hist_years, m, color=GRAY, lw=2.1, zorder=1)
for m in members_fut:
    ax.plot(future_years, m, color=GRAY, lw=2.1, zorder=1)

ax.plot(obs_cyan_years, obs_cyan, color='#00ffff', lw=1.3, zorder=3)
ax.plot(obs_magenta_years, obs_magenta, color='#ff00c8', lw=1.1, zorder=3)
ax.plot(mean_hist_years, mean_hist, color='black', lw=1.8, zorder=4)
ax.plot(future_years, mean_fut_blue, color='#0000ff', lw=1.6, zorder=4)
ax.plot(future_years, mean_fut_red, color='#b40000', lw=1.6, zorder=5)
ax.axvline(scenario_split_year, color='black', lw=2.4, ls=(0, (5, 2.5)), zorder=6)

ax.set_xlim(1850, 2100)
ax.set_ylim(0, 8)
ax.set_xticks([1850, 1900, 1950, 2000, 2050, 2100])
ax.set_xticks(np.arange(1850, 2101, 10), minor=True)
ax.set_yticks([0, 2, 4, 6, 8])
ax.set_yticks(np.arange(0, 8.01, 0.5), minor=True)

SP = '#707070'
for s in ax.spines.values():
    s.set_color(SP)
    s.set_linewidth(1.0)
ax.tick_params(axis='x', which='major', direction='in', length=8, width=1, color=SP,
               labelsize=22, labelcolor='#111111', pad=14, top=False)
ax.tick_params(axis='x', which='minor', direction='in', length=4.5, width=1, color=SP, top=False)
ax.tick_params(axis='y', which='major', direction='in', length=13, width=1, color=SP,
               labelsize=22, labelcolor='#111111', pad=9, right=True)
ax.tick_params(axis='y', which='minor', direction='in', length=7, width=1, color=SP, right=True)
for lab in ax.get_xticklabels() + ax.get_yticklabels():
    lab.set_fontweight(WT)

ax.set_xlabel('Year', fontsize=23, labelpad=5, fontweight=WT, color='#111111')
fig.text(40 / W, 1 - 325 / H, 'Total Precip. [mm/day]', rotation=90, fontsize=25,
         ha='center', va='center', fontweight=WT, color='#111111')

# top axis ticks (IDL box)
axt = ax.twiny()
axt.set_xlim(0, 900 / 26.9)
axt.set_xticks(np.arange(0, 900 / 26.9, 1.0))
axt.tick_params(axis='x', direction='in', length=5, width=1, color=SP, labeltop=False)
for s in axt.spines.values():
    s.set_visible(False)

fig.text(550 / W, 1 - 25 / H, title, fontsize=28, ha='center', va='center', fontweight=WT,
         color='#111111')
fig.text(52 / W, 1 - 25 / H, top_labels[0], fontsize=23, ha='center', va='center', fontweight=WT,
         color='#111111')
fig.text(236 / W, 1 - 25 / H, top_labels[1], fontsize=23, ha='center', va='center', fontweight=WT,
         color='#111111')

fig.savefig('out.png', dpi=100)
